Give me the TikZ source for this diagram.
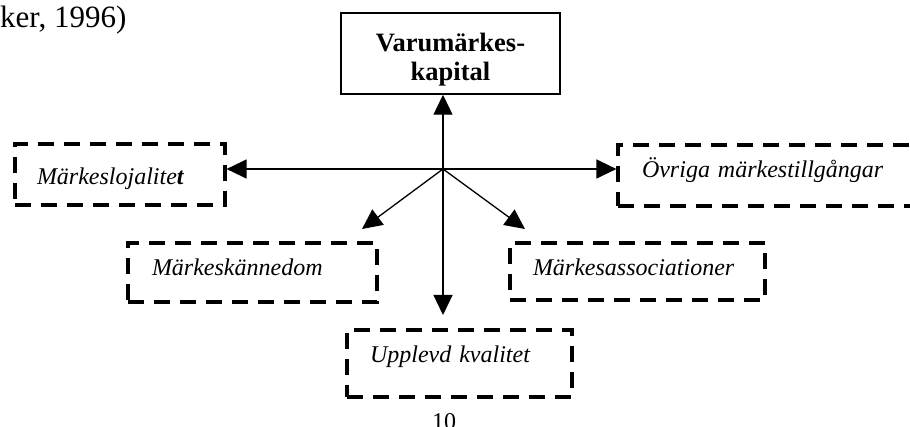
\documentclass[tikz,border=0pt]{standalone}
\usepackage{fontspec}
\setmainfont{Liberation Serif}
\usetikzlibrary{arrows.meta}

\begin{document}
\begin{tikzpicture}[x=1pt,y=-1pt,
  solidbox/.style={draw, line width=1.5pt, inner sep=0pt, align=center,
    font=\fontsize{26.5}{29}\selectfont\bfseries},
  dashbox/.style={draw, line width=3.2pt, dash pattern=on 16pt off 10pt,
    inner ysep=0pt, align=left, text depth=0pt,
    font=\fontsize{24}{28}\selectfont\itshape},
  link/.style={line width=1.3pt, -{Triangle[length=20pt,width=19pt]}},
  plain/.style={inner sep=0pt, anchor=base west}]

\useasboundingbox (0,0) rectangle (910,427);

% page text around the figure
\node[plain, font=\fontsize{31}{34}\selectfont] (cite) at (0,28) {ker, 1996)};
\node[inner sep=0pt, anchor=base, font=\fontsize{24}{28}\selectfont] (page) at (444,429) {10};

% central construct
\node[solidbox, minimum width=219pt, minimum height=81pt] (kap) at (450.5,53.5)
  {\rule{0pt}{30pt}Varumärkes-\\kapital};

% dimensions (text height sets where each baseline sits in its box)
\node[dashbox, minimum width=210pt, minimum height=61pt, text width=166pt, inner xsep=22pt,
  text height=20pt] (lojal) at (120,174.5) {Märkeslojalite{\bfseries t}};
\node[dashbox, minimum width=297pt, minimum height=61pt, text width=249pt, inner xsep=24pt,
  text height=4pt] (ovriga) at (766.5,175.5) {Övriga märkestillgångar};
\node[dashbox, minimum width=249pt, minimum height=59pt, text width=201pt, inner xsep=24pt,
  text height=7pt] (kann) at (252.5,272.5) {Märkeskännedom};
\node[dashbox, minimum width=255pt, minimum height=57pt, text width=209pt, inner xsep=23pt,
  text height=8pt] (assoc) at (637.5,271.5) {Märkesassociationer};
\node[dashbox, minimum width=225pt, minimum height=67pt, text width=179pt, inner xsep=23pt,
  text height=0pt, text depth=2pt] (upplevd) at (459.5,363.5) {Upplevd kvalitet};

% connectors
\coordinate (hub) at (443,169);
\coordinate (tipK) at (362,229);
\coordinate (tipA) at (525,229);
\coordinate (tipU) at (443,315);

\draw[link] (hub) -- (kap.south -| hub);
\draw[link] (hub) -- (lojal.east |- hub);
\draw[link] (hub) -- (ovriga.west |- hub);
\draw[link] (hub) -- (tipK);
\draw[link] (hub) -- (tipA);
\draw[link] (hub) -- (tipU);
\end{tikzpicture}
\end{document}
